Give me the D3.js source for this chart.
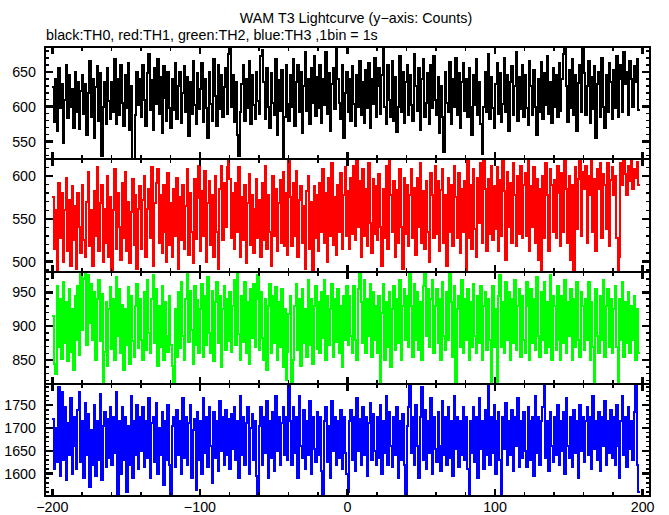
<!DOCTYPE html>
<html>
<head>
<meta charset="utf-8">
<script src="https://cdn.jsdelivr.net/npm/d3@7/dist/d3.min.js"></script>
<style>
  html, body { margin: 0; padding: 0; background: #fff; }
  svg { display: block; }
  text { font-family: "Liberation Sans", Arial, Helvetica, sans-serif; }
</style>
</head>
<body>
<svg id="chart" width="669" height="515"></svg>
<script>
// ---------------- DATA ----------------
const titleText = "WAM T3 Lightcurve (y\u2212axis: Counts)";
const subtitleText = "black:TH0, red:TH1, green:TH2, blue:TH3 ,1bin = 1s";
const startTime = -200;      // first bin start (s)
const binWidth = 1;          // 1 bin = 1 s
const xTickLabels = [-200, -100, 0, 100, 200];

const th0 = [
628,578,640,565,655,598,632,548,610,660,584,645,600,625,570,650,592,636,568,622,
645,590,632,560,620,665,585,640,555,628,658,580,648,530,600,635,575,655,608,582,
636,592,668,575,640,588,660,605,572,646,598,662,566,630,524,522,588,650,602,640,
585,660,610,572,648,675,595,638,566,655,604,668,590,642,562,658,612,580,650,598,
570,640,595,662,582,630,650,576,620,658,592,642,558,636,590,665,602,575,648,596,
625,662,578,640,598,555,650,604,580,668,615,572,660,596,645,585,628,655,590,675,
685,600,645,578,635,560,530,592,632,660,580,640,598,665,575,645,602,582,650,608,
590,672,682,636,582,655,600,570,648,606,588,668,560,638,594,652,524,585,660,604,
580,645,600,668,572,636,660,592,650,562,630,678,594,640,575,655,605,672,586,642,
598,660,576,640,602,678,590,648,565,632,655,596,686,640,606,582,660,555,620,650,
592,640,580,658,604,572,646,600,665,588,636,576,652,598,662,570,640,604,670,585,
630,655,590,646,685,600,575,660,610,585,665,580,642,564,600,672,592,650,576,636,
660,588,645,602,580,675,630,594,655,566,640,668,585,606,648,575,660,598,672,610,
588,642,562,630,585,535,650,606,592,664,575,640,600,670,588,648,570,635,662,594,
640,585,656,600,560,646,602,668,588,636,575,532,600,650,592,676,582,642,598,570,
632,662,590,648,578,604,670,592,645,565,636,658,588,630,678,580,642,596,660,585,
646,598,574,665,630,588,652,600,560,640,592,664,582,648,602,672,590,636,576,656,
600,645,585,662,594,640,676,685,630,578,652,598,668,588,645,565,634,660,592,685,
648,588,630,665,576,642,596,658,555,632,650,585,670,600,570,645,592,662,636,582,
652,598,672,585,640,660,592,678,632,650,588,665,640,600,658,636,668,595
];

const th1 = [
575,515,560,490,592,528,580,500,560,598,512,572,495,588,525,565,492,580,540,510,
590,525,505,570,605,518,560,495,582,530,610,512,568,590,500,562,522,600,505,575,
489,560,608,515,580,540,502,592,528,605,512,570,498,558,596,520,578,492,562,588,
515,572,600,505,562,585,528,610,495,568,592,608,522,578,510,590,535,500,604,520,
568,505,585,530,598,492,576,525,590,515,565,608,508,580,535,498,596,526,574,612,
512,582,530,606,500,568,594,520,578,505,600,535,492,585,612,525,592,540,610,620,
596,528,580,515,592,535,610,505,575,525,590,498,568,602,520,578,510,562,596,528,
572,505,592,525,612,515,578,535,495,600,530,585,512,568,595,522,605,518,580,508,
618,575,518,592,530,606,505,572,588,522,565,492,582,600,515,570,490,588,528,578,
512,592,535,608,522,580,500,598,530,615,520,575,508,590,535,604,515,578,610,530,
582,515,598,532,612,525,620,540,594,505,608,530,585,518,615,545,510,596,532,588,
525,602,540,495,585,528,612,515,620,578,535,594,505,584,522,608,540,492,598,532,
590,518,578,608,528,586,508,598,540,615,522,582,515,594,535,500,604,578,528,612,
532,594,512,584,608,522,578,495,598,535,590,518,612,575,528,604,510,585,535,594,
488,620,528,590,515,608,538,505,598,545,615,522,620,585,512,596,532,612,525,588,
538,610,512,595,530,618,582,502,605,540,592,522,615,578,518,600,532,612,528,590,
604,530,618,512,588,540,610,522,596,502,585,488,600,528,615,578,512,608,590,535,
595,528,612,580,518,604,535,618,585,522,600,502,590,488,610,538,596,620,530,605,
585,612,522,600,578,618,535,596,512,608,585,615,528,602,590,538,615,518,595,610,
578,600,528,488,505,615,590,620,602,578,612,594,618,585,608,598,616,590
];

const th2 = [
915,845,830,960,870,940,852,965,875,935,848,955,862,925,835,945,880,960,858,980,
895,970,980,872,975,905,962,880,950,850,940,968,878,948,815,862,935,842,925,958,
866,940,850,972,885,955,860,932,835,925,872,958,845,945,878,855,930,962,868,940,
880,850,950,865,968,890,860,940,975,875,955,842,930,870,960,850,935,885,862,945,
872,842,815,925,855,950,868,965,885,850,940,980,876,952,895,845,960,872,938,860,
925,962,855,945,872,972,890,860,952,848,935,965,875,945,840,925,960,865,940,878,
950,862,930,968,872,980,888,850,945,876,965,860,935,845,955,882,962,870,940,975,
865,950,882,850,940,835,930,962,860,945,875,958,850,935,870,955,840,925,820,862,
918,945,815,850,930,962,865,940,842,955,875,925,855,968,872,940,845,930,960,866,
935,860,950,882,968,850,945,872,925,962,855,940,876,955,860,930,840,945,880,960,
872,945,885,860,960,880,850,955,980,935,875,968,860,940,885,962,855,950,880,930,
860,945,815,920,962,850,935,870,950,840,925,960,865,940,875,968,850,930,955,880,
945,870,980,930,855,962,880,950,865,935,850,960,980,885,955,870,940,968,860,930,
955,875,940,850,965,885,865,950,880,980,935,855,960,818,925,945,870,968,860,940,
880,955,850,935,870,962,885,860,945,875,960,850,930,950,865,940,880,815,960,870,
925,815,945,975,870,935,860,965,880,950,850,940,875,968,865,930,955,855,945,880,
860,965,930,850,955,875,940,865,972,885,855,950,880,965,860,935,870,975,850,945,
930,865,960,880,850,945,875,968,860,935,885,955,850,940,870,965,880,855,950,930,
865,940,880,965,850,935,870,818,955,885,860,945,880,968,855,930,955,870,940,860,
925,960,870,815,940,880,965,855,935,875,950,860,930,880,945,850,925,860
];

const th3 = [
1720,1610,1700,1625,1790,1595,1780,1630,1745,1585,1710,1640,1765,1600,1725,1660,1610,1740,1780,1625,
1715,1590,1755,1640,1730,1570,1695,1620,1750,1595,1715,1630,1775,1585,1705,1735,1615,1720,1635,1745,
1620,1725,1645,1780,1555,1715,1600,1745,1630,1725,1560,1705,1620,1770,1590,1715,1640,1750,1610,1725,
1650,1745,1615,1715,1635,1765,1590,1710,1725,1625,1755,1600,1700,1640,1735,1575,1715,1630,1750,1620,
1548,1705,1725,1615,1740,1640,1715,1600,1765,1635,1725,1620,1710,1750,1590,1695,1720,1565,1735,1630,
1715,1600,1765,1645,1725,1615,1745,1660,1580,1735,1635,1715,1605,1760,1650,1725,1620,1740,1640,1720,
1610,1730,1655,1745,1630,1715,1590,1770,1640,1725,1620,1710,1745,1600,1700,1730,1630,1715,1595,1550,
1705,1745,1620,1725,1645,1760,1590,1715,1635,1735,1605,1770,1650,1725,1620,1710,1745,1640,1725,1630,
1796,1715,1620,1745,1645,1725,1590,1770,1660,1635,1740,1610,1715,1640,1760,1600,1725,1655,1625,1735,
1640,1725,1605,1550,1715,1745,1625,1705,1590,1760,1650,1725,1620,1715,1635,1740,1610,1725,1645,1600,
1560,1715,1740,1630,1725,1605,1765,1650,1720,1620,1745,1640,1725,1595,1710,1755,1630,1730,1650,1620,
1725,1635,1750,1600,1715,1645,1770,1620,1735,1660,1615,1725,1640,1745,1590,1715,1630,1730,1620,1555,
1705,1745,1796,1645,1725,1620,1750,1660,1590,1725,1790,1630,1740,1610,1715,1645,1765,1600,1725,1655,
1625,1735,1660,1605,1760,1640,1725,1620,1745,1635,1715,1595,1770,1655,1725,1615,1715,1640,1745,1630,
1725,1610,1548,1715,1645,1745,1625,1725,1590,1765,1655,1715,1610,1740,1640,1796,1620,1725,1645,1750,
1600,1715,1735,1630,1553,1725,1655,1755,1620,1715,1640,1740,1605,1725,1660,1765,1615,1715,1635,1735,
1650,1615,1745,1715,1630,1725,1595,1770,1645,1725,1620,1715,1745,1796,1635,1715,1605,1735,1660,1625,
1725,1640,1750,1620,1715,1650,1735,1600,1765,1660,1635,1725,1615,1740,1645,1715,1590,1750,1650,1725,
1625,1715,1745,1640,1725,1610,1770,1655,1715,1630,1735,1605,1725,1660,1760,1620,1715,1645,1740,1635,
1725,1620,1750,1660,1590,1715,1770,1640,1725,1615,1745,1655,1715,1630,1735,1796,1620,1560
];

const seriesNames = ["TH0", "TH1", "TH2", "TH3"];
const seriesColors = ["#000000", "#ff0000", "#00ff00", "#0000ff"];
const seriesValues = [th0, th1, th2, th3];
const yDomains = [[524.6, 685.6], [488.3, 619.5], [814.5, 980.4], [1551, 1796]];
const yMajorStep = [50, 50, 50, 50];
const yMinorStep = [10, 10, 10, 10];

// ---------------- LAYOUT ----------------
const svg = d3.select("#chart");
const left = 45, right = 650;
const panelTops = [47, 159.3, 271.7, 384.2];
const panelBottom = 496;

const x = d3.scaleLinear().domain([-205, 205]).range([left, right]);

svg.append("text")
  .attr("x", 356).attr("y", 23)
  .attr("text-anchor", "middle")
  .attr("font-size", 14.3)
  .text(titleText);
svg.append("text")
  .attr("x", 46).attr("y", 40)
  .attr("font-size", 14.3)
  .text(subtitleText);

const defs = svg.append("defs");

seriesValues.forEach((vals, k) => {
  const y0 = panelTops[k];
  const y1 = k < 3 ? panelTops[k + 1] : panelBottom;
  const y = d3.scaleLinear().domain(yDomains[k]).range([y1, y0]);

  defs.append("clipPath").attr("id", "clip" + k)
    .append("rect").attr("x", left).attr("y", y0).attr("width", right - left).attr("height", y1 - y0);

  const pts = vals.map((v, i) => [startTime + i * binWidth, v]);
  pts.push([startTime + vals.length * binWidth, vals[vals.length - 1]]);
  const line = d3.line()
    .x(d => x(d[0])).y(d => y(d[1]))
    .curve(d3.curveStepAfter);

  svg.append("path")
    .attr("clip-path", "url(#clip" + k + ")")
    .attr("d", line(pts))
    .attr("fill", "none")
    .attr("stroke", seriesColors[k])
    .attr("stroke-width", 2)
    .attr("shape-rendering", "crispEdges");

  const g = svg.append("g").attr("stroke", "#000").attr("fill", "none").attr("shape-rendering", "crispEdges");
  // y ticks (left and right, inward)
  const dom = yDomains[k];
  const minorY = d3.range(Math.ceil(dom[0] / yMinorStep[k]) * yMinorStep[k], dom[1], yMinorStep[k]);
  minorY.forEach(v => {
    const major = v % yMajorStep[k] === 0;
    const len = major ? 8 : 4;
    const sw = major ? 2.5 : 1.5;
    g.append("line").attr("x1", left).attr("x2", left + len).attr("y1", y(v)).attr("y2", y(v)).attr("stroke-width", sw);
    g.append("line").attr("x1", right).attr("x2", right - len).attr("y1", y(v)).attr("y2", y(v)).attr("stroke-width", sw);
  });
  // left tick labels
  d3.range(Math.ceil(dom[0] / yMajorStep[k]) * yMajorStep[k], dom[1], yMajorStep[k]).forEach(v => {
    svg.append("text")
      .attr("x", 36).attr("y", y(v) + 5)
      .attr("text-anchor", "end")
      .attr("font-size", 14.3)
      .text(v);
  });
  // x ticks top & bottom (inward)
  d3.range(-200, 201, 20).forEach(t => {
    const major = t % 100 === 0;
    const len = major ? 7 : 4;
    const sw = major ? 2.5 : 1.5;
    g.append("line").attr("x1", x(t)).attr("x2", x(t)).attr("y1", y0).attr("y2", y0 + len).attr("stroke-width", sw);
    g.append("line").attr("x1", x(t)).attr("x2", x(t)).attr("y1", y1).attr("y2", y1 - len).attr("stroke-width", sw);
  });
  // frame
  g.append("rect").attr("x", left).attr("y", y0).attr("width", right - left).attr("height", y1 - y0)
    .attr("stroke-width", 2);
});

// bottom x labels
xTickLabels.forEach(t => {
  svg.append("text")
    .attr("x", x(t)).attr("y", 512)
    .attr("text-anchor", "middle")
    .attr("font-size", 14.3)
    .text(t < 0 ? "\u2212" + Math.abs(t) : String(t));
});
</script>
</body>
</html>
